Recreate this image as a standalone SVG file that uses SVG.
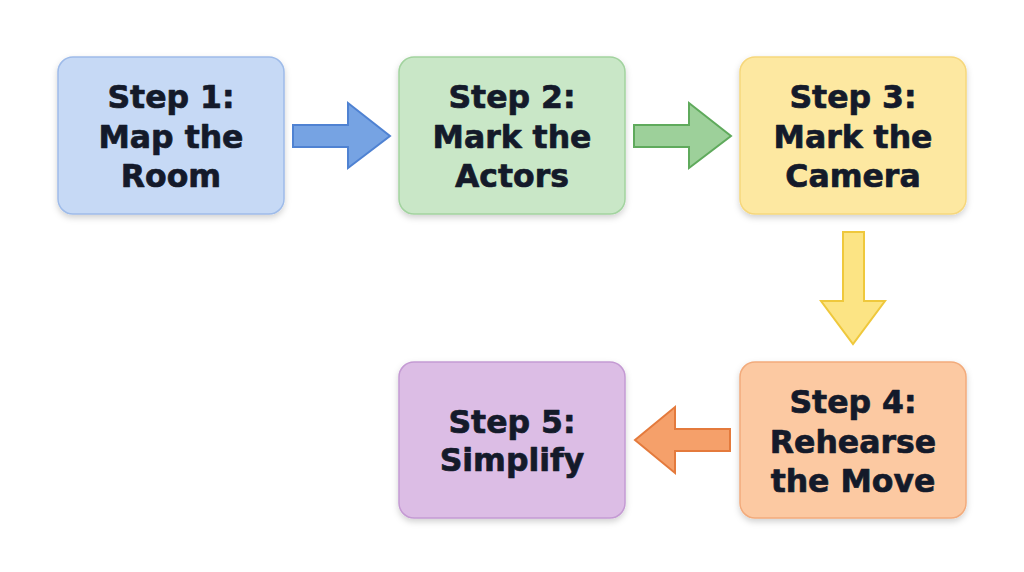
<svg xmlns="http://www.w3.org/2000/svg" width="1024" height="572" viewBox="0 0 1024 572">
<defs>
<filter id="sh" x="-10%" y="-10%" width="120%" height="130%">
<feDropShadow dx="0" dy="3" stdDeviation="3" flood-color="#000" flood-opacity="0.18"/>
</filter>
</defs>
<style>
.box{stroke-width:1.5;filter:url(#sh)}
.t{font-family:"DejaVu Sans",sans-serif;font-weight:bold;font-size:31.5px;fill:#141a2a;stroke:#141a2a;stroke-width:0.7;stroke-linejoin:round;text-anchor:middle}
.arr{stroke-width:2;stroke-linejoin:miter}
</style>
<rect width="1024" height="572" fill="#ffffff"/>
<g id="connectors">
<path class="arr" d="M293,125 H348 V103 L390,136 L348,168 V147 H293 Z" fill="#76a3e3" stroke="#4f82d2"/>
<path class="arr" d="M634,125 H689 V103 L731,136 L689,168 V147 H634 Z" fill="#9dd09a" stroke="#5faa5c"/>
<path class="arr" d="M843,232 H864 V301 H885 L853,344 L821,301 H843 Z" fill="#fce484" stroke="#efc83c"/>
<path class="arr" d="M730,429 H675 V407 L635,440 L675,473 V451 H730 Z" fill="#f5a06a" stroke="#e47a3c"/>
</g>
<g id="step1">
<rect class="box" x="58" y="57" width="226" height="157" rx="15" fill="#c6d9f5" stroke="#9ebbe9"/>
<text class="t" x="171" y="108">Step 1:</text>
<text class="t" x="171" y="147.5">Map the</text>
<text class="t" x="171" y="187">Room</text>
</g>
<g id="step2">
<rect class="box" x="399" y="57" width="226" height="157" rx="15" fill="#c9e7c7" stroke="#a2d39f"/>
<text class="t" x="512" y="108">Step 2:</text>
<text class="t" x="512" y="147.5">Mark the</text>
<text class="t" x="512" y="187">Actors</text>
</g>
<g id="step3">
<rect class="box" x="740" y="57" width="226" height="157" rx="15" fill="#fde8a1" stroke="#f6d77c"/>
<text class="t" x="853" y="108">Step 3:</text>
<text class="t" x="853" y="147.5">Mark the</text>
<text class="t" x="853" y="187">Camera</text>
</g>
<g id="step4">
<rect class="box" x="740" y="362" width="226" height="156" rx="15" fill="#fcc9a2" stroke="#f2ab7c"/>
<text class="t" x="853" y="413">Step 4:</text>
<text class="t" x="853" y="452.5">Rehearse</text>
<text class="t" x="853" y="492">the Move</text>
</g>
<g id="step5">
<rect class="box" x="399" y="362" width="226" height="156" rx="15" fill="#dcbde5" stroke="#c49ad3"/>
<text class="t" x="512" y="433">Step 5:</text>
<text class="t" x="512" y="471">Simplify</text>
</g>
</svg>
